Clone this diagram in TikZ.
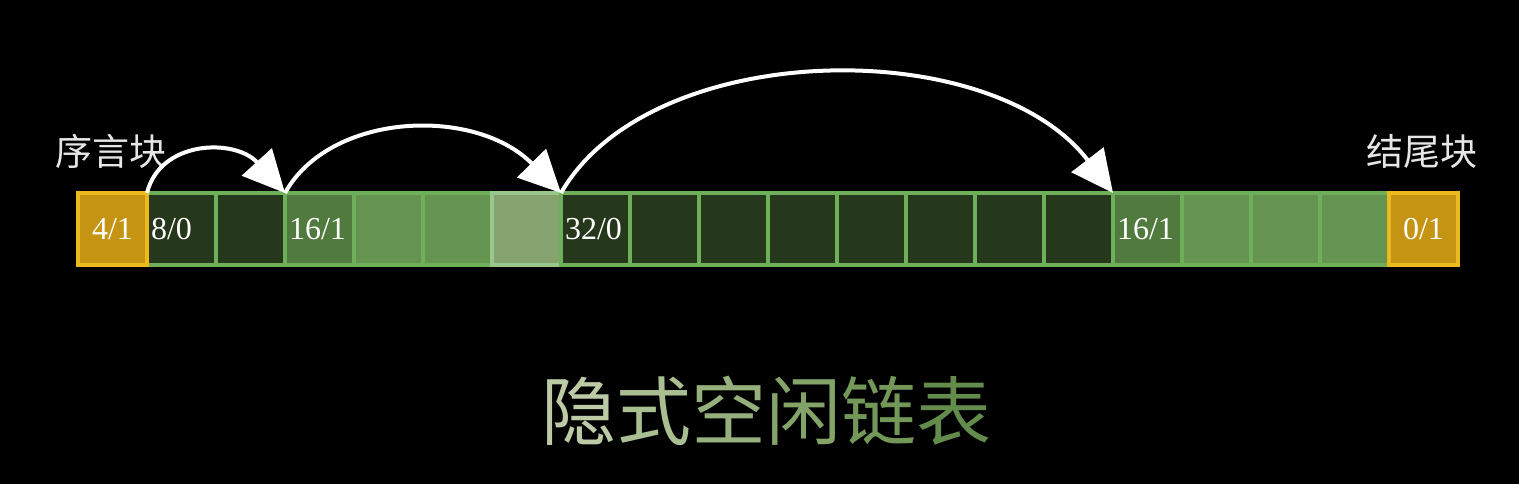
\documentclass[tikz,border=0pt]{standalone}
\usepackage{fontspec}
\setmainfont{Liberation Serif}
\newfontfamily\cjk{Noto Sans CJK SC}
\usetikzlibrary{arrows.meta}
\definecolor{yel}{HTML}{C49412}
\definecolor{yelb}{HTML}{EDBA1E}
\definecolor{gb}{HTML}{6EAF5A}
\definecolor{dk}{HTML}{26381C}
\definecolor{mid}{HTML}{507A3E}
\definecolor{lt}{HTML}{649450}
\definecolor{lt2}{HTML}{84A36E}
\definecolor{lab}{HTML}{E6E6E6}
\definecolor{ta}{HTML}{BCCBA6}
\definecolor{tb}{HTML}{A9BE91}
\definecolor{tc}{HTML}{95B07C}
\definecolor{td}{HTML}{83A369}
\definecolor{te}{HTML}{729758}
\definecolor{tf}{HTML}{638C4C}
\begin{document}
\begin{tikzpicture}[x=1pt,y=-1pt,
  cell/.style={draw=gb,line width=3.5pt,minimum width=69pt,minimum height=72pt,
    inner xsep=4pt,inner ysep=0pt,outer sep=0pt,anchor=north west,text=white,
    text width=61pt,align=left,font=\fontsize{32}{32}\selectfont},
  endcell/.style={cell,fill=yel,draw=yelb,align=center},
  arr/.style={draw=white,line width=4pt,-{Triangle[length=42pt,width=40pt]}},
  lbl/.style={text=lab,font=\cjk\fontsize{37}{37}\selectfont,inner sep=0pt}]
\fill[black] (0,0) rectangle (1519,484);
\useasboundingbox (0,0) rectangle (1519,484);
% green cells
\node[cell,fill=dk]  (c2)  at (147,193) {8/0};
\node[cell,fill=dk]  (c3)  at (216,193) {};
\node[cell,fill=mid] (c4)  at (285,193) {16/1};
\node[cell,fill=lt]  (c5)  at (354,193) {};
\node[cell,fill=lt]  (c6)  at (423,193) {};
\node[cell,fill=lt2,draw=gb!70!white] (c7)  at (492,193) {};
\node[cell,fill=dk]  (c8)  at (561,193) {32/0};
\node[cell,fill=dk]  (c9)  at (630,193) {};
\node[cell,fill=dk]  (c10) at (699,193) {};
\node[cell,fill=dk]  (c11) at (768,193) {};
\node[cell,fill=dk]  (c12) at (837,193) {};
\node[cell,fill=dk]  (c13) at (906,193) {};
\node[cell,fill=dk]  (c14) at (975,193) {};
\node[cell,fill=dk]  (c15) at (1044,193) {};
\node[cell,fill=mid] (c16) at (1113,193) {16/1};
\node[cell,fill=lt]  (c17) at (1182,193) {};
\node[cell,fill=lt]  (c18) at (1251,193) {};
\node[cell,fill=lt]  (c19) at (1320,193) {};
% end cells
\node[endcell] (c1)  at (78,193) {4/1};
\node[endcell] (c20) at (1389,193) {0/1};
% labels
\node[lbl] (pro) at (111,151) {序言块};
\node[lbl] (epi) at (1422,151) {结尾块};
% arrows
\draw[arr] (c2.north west) .. controls (160,140) and (235,138) .. (c4.north west);
\draw[arr] (c4.north west) .. controls (330,112) and (475,106) .. (c8.north west);
\draw[arr] (c8.north west) .. controls (650,38) and (990,33) .. (c16.north west);
% title
\node[inner sep=0pt,font=\cjk\fontsize{75}{75}\selectfont] (title) at (766,411)
  {{\color{ta}隐}{\color{tb}式}{\color{tc}空}{\color{td}闲}{\color{te}链}{\color{tf}表}};
\end{tikzpicture}
\end{document}
